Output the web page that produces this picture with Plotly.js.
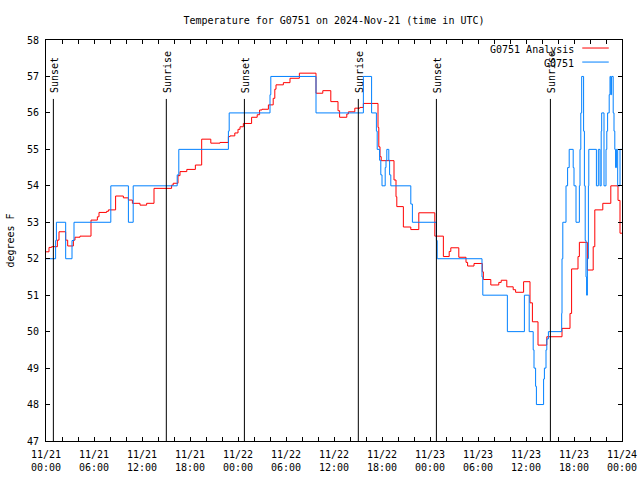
<!DOCTYPE html>
<html>
<head>
<meta charset="utf-8">
<script src="https://cdn.plot.ly/plotly-3.0.1.min.js"></script>
<style>html,body{margin:0;padding:0;background:#fff;}#chart{width:640px;height:480px;}</style>
</head>
<body>
<div id="chart"></div>
<script>
// Hours after 2024-11-21 00:00 UTC
const analysisHours = [0, 0.375, 0.7, 1.42, 1.625, 2.46, 2.71, 3.42, 3.625, 4.25, 5.625, 6.42, 6.625, 7.58, 7.8, 8.7, 9.67, 10.3, 10.8, 11.75, 12.58, 13.5, 15.7, 15.9, 16.5, 16.75, 17.6, 18.67, 19.46, 20.6, 21.75, 22.8, 23.0, 23.6, 24.0, 24.25, 24.67, 25.7, 26.4, 26.7, 27.0, 27.8, 28.4, 28.6, 28.75, 29.67, 30.5, 31.67, 33.75, 34.6, 35.6, 36.5, 36.7, 37.6, 37.8, 38.6, 39.25, 39.67, 41.5, 41.6, 41.75, 41.9, 43.5, 43.75, 43.85, 44.67, 45.6, 46.6, 48.6, 49.67, 50.4, 50.6, 51.6, 52.5, 52.7, 53.5, 54.54, 54.67, 55.6, 56.6, 56.9, 57.6, 58.4, 58.7, 59.7, 60.5, 60.8, 61.5, 62.6, 64.5, 65.5, 65.7, 66.5, 66.67, 67.67, 68.4, 68.6, 69.6, 70.6, 71.5, 71.75, 72];
const analysisTemp = [52.19, 52.31, 52.33, 52.51, 52.74, 52.51, 52.35, 52.51, 52.59, 52.62, 53.06, 53.15, 53.27, 53.30, 53.34, 53.72, 53.67, 53.61, 53.52, 53.47, 53.52, 53.93, 54.02, 54.07, 54.28, 54.39, 54.45, 54.57, 55.28, 55.17, 55.19, 55.35, 55.37, 55.45, 55.55, 55.62, 55.71, 55.88, 55.95, 56.08, 56.10, 56.22, 56.40, 56.65, 56.77, 56.83, 56.95, 57.09, 56.54, 56.61, 56.31, 56.06, 55.88, 55.97, 56.03, 56.13, 56.15, 56.26, 55.60, 55.07, 54.80, 54.69, 54.16, 53.70, 53.43, 52.87, 52.80, 53.26, 52.62, 52.06, 52.20, 52.30, 52.04, 51.90, 51.80, 51.87, 51.64, 51.43, 51.28, 51.35, 51.41, 51.23, 51.15, 51.08, 51.37, 50.79, 50.27, 49.63, 49.86, 50.09, 50.50, 51.72, 52.06, 52.45, 51.69, 52.33, 53.34, 53.52, 54.00, 53.60, 52.70, 52.70];

const obsHours = [0, 1.2, 1.3, 2.46, 3.25, 3.5, 8.1, 10.3, 10.9, 16.4, 16.6, 22.8, 22.9, 28.0, 28.1, 33.75, 39.67, 40.7, 41.3, 41.4, 41.7, 41.85, 42.0, 42.4, 42.5, 42.6, 42.85, 42.95, 43.1, 45.6, 45.8, 48.8, 48.9, 54.5, 54.6, 57.67, 59.8, 60.4, 60.9, 61.0, 61.2, 61.3, 62.2, 62.3, 62.5, 62.6, 62.8, 64.46, 64.5, 64.6, 65.0, 65.2, 65.4, 65.9, 66.0, 66.25, 66.67, 66.75, 66.85, 66.96, 67.2, 67.3, 67.4, 67.5, 67.58, 67.67, 67.8, 67.85, 68.8, 69.04, 69.25, 69.4, 69.46, 69.75, 70.0, 70.1, 70.2, 70.4, 70.5, 70.6, 70.7, 70.9, 71.0, 71.1, 71.2, 71.3, 71.46, 71.75, 72];
const obsTemp = [52, 52.5, 53, 52, 52.5, 53, 54, 53, 54, 54.3, 55, 55.5, 56, 56.5, 57, 56, 57, 56, 55.5, 55, 54.7, 54.3, 54, 54.5, 54.7, 55, 54.7, 54.3, 54, 53.5, 53, 52.5, 52, 51.5, 51, 50, 51, 50, 49.5, 49, 48.5, 48, 48.7, 49, 49.5, 49.8, 50, 50.5, 52, 53, 54, 54.5, 55, 54.5, 54, 53, 54, 55, 56, 57, 55.5, 54, 52.5, 51.5, 51, 52, 54, 55, 54, 55, 54, 55.5, 56, 54, 55, 55.5, 56, 56.5, 57, 56.5, 57, 56, 55.5, 55, 54.5, 55, 54, 55, 55];

const sunLabels = ['Sunset', 'Sunrise', 'Sunset', 'Sunrise', 'Sunset', 'Sunrise'];
const sunHours = [0.92, 15.04, 24.8, 39.04, 48.8, 63.05];

const seriesNames = ['G0751 Analysis', 'G0751'];
const seriesColors = ['#ff0000', '#0080ff'];

function t(h) {
  const d = new Date(Date.UTC(2024, 10, 21) + Math.round(h * 3600000));
  const p = n => String(n).padStart(2, '0');
  return d.getUTCFullYear() + '-' + p(d.getUTCMonth() + 1) + '-' + p(d.getUTCDate()) + ' ' +
    p(d.getUTCHours()) + ':' + p(d.getUTCMinutes()) + ':' + p(d.getUTCSeconds());
}

const FONT = 'DejaVu Sans Mono, monospace';

const traces = [
  {x: analysisHours.map(t), y: analysisTemp, name: seriesNames[0], type: 'scatter', mode: 'lines',
   line: {color: seriesColors[0], width: 1, shape: 'hv'}},
  {x: obsHours.map(t), y: obsTemp, name: seriesNames[1], type: 'scatter', mode: 'lines',
   line: {color: seriesColors[1], width: 1, shape: 'hv'}}
];

const shapes = sunHours.map(h => ({
  type: 'line', xref: 'x', yref: 'paper', x0: t(h), x1: t(h), y0: 0, y1: 0.853,
  line: {color: '#000', width: 1}
}));
const annotations = sunHours.map((h, i) => ({
  x: t(h), xref: 'x', y: 0.866, yref: 'paper', text: sunLabels[i], textangle: -90,
  showarrow: false, xanchor: 'center', yanchor: 'bottom', font: {family: FONT, size: 10, color: '#000'},
  borderpad: 0, xshift: 1
}));
// gnuplot style key: text right-aligned, sample line to the right
const keyY = [0.976, 0.941];
seriesNames.forEach((n, i) => {
  annotations.push({x: 0.918, xref: 'paper', y: keyY[i], yref: 'paper', text: n, showarrow: false,
    xanchor: 'right', yanchor: 'middle', font: {family: FONT, size: 10, color: '#000'}, borderpad: 0});
  shapes.push({type: 'line', xref: 'paper', yref: 'paper', x0: 0.931, x1: 0.977, y0: keyY[i] + 0.004, y1: keyY[i] + 0.004,
    line: {color: seriesColors[i], width: 1}});
});

const layout = {
  width: 640, height: 480,
  margin: {l: 46, r: 18, t: 40, b: 39},
  paper_bgcolor: '#fff', plot_bgcolor: '#fff',
  showlegend: false,
  font: {family: FONT, size: 10, color: '#000'},
  title: {text: 'Temperature for G0751 on 2024-Nov-21 (time in UTC)', x: 0.5, xref: 'paper',
    y: 0.958, yref: 'container', yanchor: 'middle', font: {family: FONT, size: 10, color: '#000'}},
  xaxis: {
    type: 'date', range: [t(0), t(72)], tick0: t(0), dtick: 6 * 3600000,
    tickformat: '%m/%d<br>%H:%M', ticks: 'inside', ticklen: 4, tickcolor: '#000',
    showline: true, linecolor: '#000', linewidth: 1, mirror: 'allticks', showgrid: false, zeroline: false,
    minor: {dtick: 2 * 3600000, ticks: 'inside', ticklen: 4, tickcolor: '#000', showgrid: false},
    tickfont: {family: FONT, size: 10, color: '#000'}, ticklabelstandoff: 4
  },
  yaxis: {
    range: [47, 58], dtick: 1, ticks: 'inside', ticklen: 4, tickcolor: '#000',
    showline: true, linecolor: '#000', linewidth: 1, mirror: 'allticks', showgrid: false, zeroline: false,
    tickfont: {family: FONT, size: 10, color: '#000'}, ticklabelstandoff: 4,
    title: {text: 'degrees F', font: {family: FONT, size: 10, color: '#000'}, standoff: 10}
  },
  shapes: shapes,
  annotations: annotations
};

Plotly.newPlot('chart', traces, layout, {staticPlot: true, displayModeBar: false});
</script>
</body>
</html>
